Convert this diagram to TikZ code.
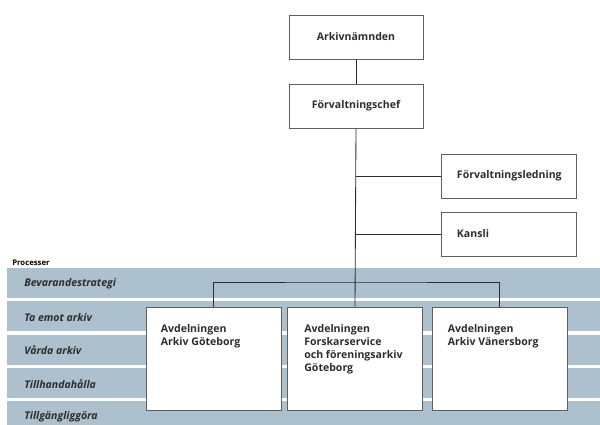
\documentclass[tikz,border=0pt]{standalone}
\usepackage{fontspec}
\setmainfont{Open Sans}
\usetikzlibrary{positioning}
\definecolor{bandblue}{RGB}{172,192,206}
\definecolor{boxgray}{RGB}{95,95,95}
\definecolor{textgray}{RGB}{45,45,45}
\tikzset{
  unit/.style={draw=boxgray, line width=0.6pt, fill=white, minimum width=3.35cm, minimum height=1.1cm, inner sep=0pt, font=\fontsize{7.5}{9}\selectfont\bfseries\color{textgray}},
  staff/.style={unit, minimum width=3.375cm, align=left, text width=2.575cm, inner xsep=0.4cm},
  dept/.style={draw=boxgray, line width=0.6pt, fill=white, minimum width=3.375cm, minimum height=2.575cm, inner sep=0pt},
  depttext/.style={anchor=north west, align=left, inner sep=0pt, font=\fontsize{7.5}{9.2}\selectfont\bfseries\color{textgray}},
  process/.style={anchor=west, inner sep=0pt, font=\fontsize{7.5}{9}\selectfont\bfseries\itshape\color{textgray}},
  link/.style={draw=textgray, line width=0.6pt}
}
\begin{document}
\begin{tikzpicture}[x=0.025cm, y=-0.025cm]
  \useasboundingbox (0,0) rectangle (600,425);

  % Process bands
  \node[anchor=west, inner sep=0pt, font=\fontsize{5.5}{6}\selectfont\bfseries] (proc) at (12,263) {Processer};
  \foreach \i/\name in {0/Bevarandestrategi, 1/Ta emot arkiv, 2/Vårda arkiv, 3/Tillhandahålla, 4/Tillgängliggöra} {
    \fill[bandblue] (7,268+33.3*\i) rectangle (600,298+33.3*\i);
    \node[process] (band\i) at (24,284+33.3*\i) {\name};
  }

  % Top of the organisation
  \node[unit] (arkiv) at (356,37) {Arkivnämnden};
  \node[unit] (chef) at (356,106) {Förvaltningschef};
  \node[staff] (ledning) at (508.5,176) {Förvaltningsledning};
  \node[staff] (kansli) at (508.5,234) {Kansli};

  % Departments
  \node[dept] (avd1) at (213.5,358.5) {};
  \node[dept] (avd2) at (355,358.5) {};
  \node[dept] (avd3) at (499.5,358.5) {};
  \node[depttext] (avd1text) at ([shift={(15,18)}]avd1.north west) {Avdelningen\\Arkiv Göteborg};
  \node[depttext] (avd2text) at ([shift={(17,18)}]avd2.north west) {Avdelningen\\Forskarservice\\och föreningsarkiv\\Göteborg};
  \node[depttext] (avd3text) at ([shift={(16,18)}]avd3.north west) {Avdelningen\\Arkiv Vänersborg};

  % Lines
  \coordinate (bus) at (chef.south |- 0,282);
  \draw[link] (arkiv) -- (chef);
  \draw[link] (chef.south) -- (avd2.north);
  \draw[link] (chef.south |- ledning.west) -- (ledning.west);
  \draw[link] (chef.south |- kansli.west) -- (kansli.west);
  \draw[link] (avd1.north) |- (bus) -| (avd3.north);
\end{tikzpicture}
\end{document}
